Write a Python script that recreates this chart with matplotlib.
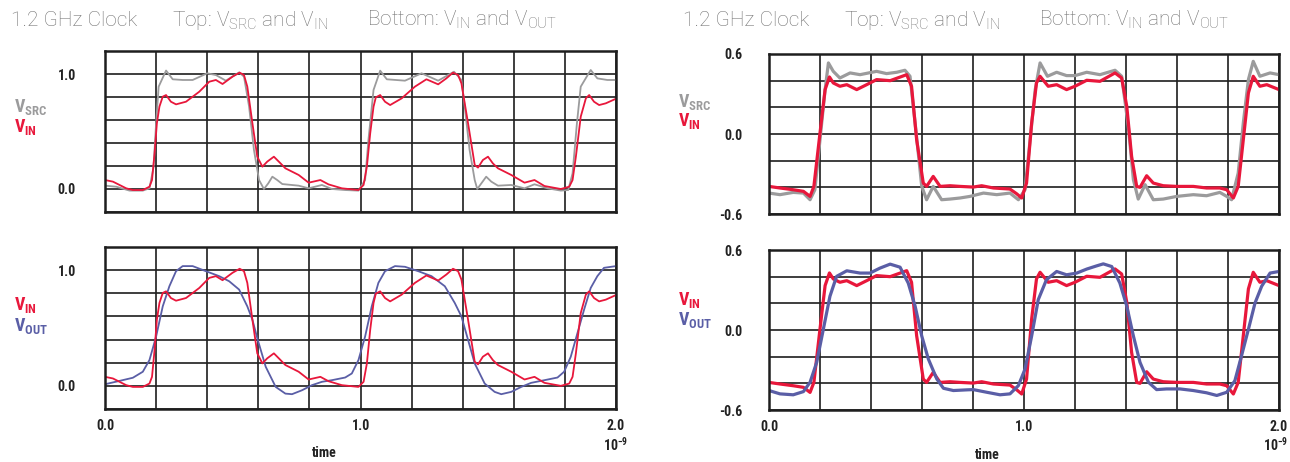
import matplotlib
matplotlib.use("Agg")
import numpy as np
import matplotlib.pyplot as plt
from matplotlib import font_manager as fm

# ---------------- data (time in ns, voltage in V) ----------------
# Left chart (0..1 V scale)
left_src_t = [0, 0.044, 0.096, 0.148, 0.174, 0.190, 0.200, 0.210, 0.239, 0.265, 0.304, 0.343, 0.400, 0.434,
              0.473, 0.525, 0.544, 0.564, 0.583, 0.603, 0.622, 0.639, 0.655, 0.674, 0.694, 0.758, 0.797, 0.849,
              0.888, 0.940, 0.992, 1.018, 1.031, 1.051, 1.077, 1.103, 1.174, 1.239, 1.304, 1.366, 1.395, 1.408,
              1.427, 1.447, 1.457, 1.473, 1.492, 1.512, 1.538, 1.590, 1.642, 1.681, 1.732, 1.784, 1.813, 1.830,
              1.847, 1.862, 1.901, 1.927, 1.966, 2.0]
left_src_v = [0.029, 0.020, -0.014, -0.014, 0.006, 0.19, 0.57, 0.89, 1.03, 0.954, 0.948, 0.948, 1.006, 0.991,
              0.942, 1.014, 0.977, 0.716, 0.339, 0.078, 0.0, 0.049, 0.107, 0.078, 0.043, 0.029, 0.006, 0.035,
              0.0, -0.009, -0.014, 0.078, 0.426, 0.861, 1.029, 0.954, 0.942, 1.006, 0.942, 1.020, 0.948, 0.716,
              0.339, 0.078, 0.0, 0.049, 0.107, 0.064, 0.029, 0.035, 0.006, 0.041, 0.006, -0.014, -0.009, 0.136,
              0.571, 0.890, 1.035, 0.962, 0.948, 0.948]

left_in_t = [0, 0.031, 0.057, 0.083, 0.109, 0.148, 0.174, 0.184, 0.194, 0.203, 0.213, 0.226, 0.239, 0.258,
             0.278, 0.317, 0.369, 0.408, 0.434, 0.460, 0.499, 0.527, 0.544, 0.557, 0.577, 0.596, 0.616, 0.635,
             0.661, 0.687, 0.706, 0.758, 0.797, 0.843, 0.875, 0.927, 0.992, 1.012, 1.025, 1.038, 1.051, 1.060,
             1.077, 1.096, 1.116, 1.161, 1.213, 1.258, 1.304, 1.336, 1.362, 1.382, 1.395, 1.421, 1.447, 1.460,
             1.479, 1.499, 1.518, 1.538, 1.590, 1.642, 1.681, 1.720, 1.784, 1.817, 1.830, 1.843, 1.862, 1.882,
             1.895, 1.914, 1.934, 1.960, 2.0]
left_in_v = [0.078, 0.064, 0.035, 0.006, -0.009, -0.009, 0.020, 0.078, 0.310, 0.571, 0.716, 0.803, 0.817,
             0.759, 0.736, 0.759, 0.846, 0.933, 0.948, 0.913, 0.977, 1.012, 0.991, 0.890, 0.571, 0.281, 0.194,
             0.238, 0.281, 0.223, 0.180, 0.122, 0.055, 0.078, 0.040, 0.006, -0.009, 0.035, 0.194, 0.484, 0.716,
             0.797, 0.817, 0.759, 0.730, 0.788, 0.890, 0.954, 0.910, 0.962, 1.012, 0.991, 0.919, 0.571, 0.209,
             0.186, 0.252, 0.281, 0.223, 0.180, 0.122, 0.055, 0.078, 0.026, 0.0, 0.020, 0.078, 0.281, 0.629,
             0.788, 0.817, 0.759, 0.730, 0.745, 0.785]

left_out_t = [0, 0.057, 0.109, 0.148, 0.174, 0.200, 0.226, 0.252, 0.278, 0.304, 0.343, 0.395, 0.447, 0.486,
              0.525, 0.557, 0.577, 0.596, 0.629, 0.668, 0.706, 0.732, 0.771, 0.810, 0.849, 0.888, 0.940, 0.966,
              0.992, 1.018, 1.044, 1.070, 1.096, 1.135, 1.174, 1.226, 1.278, 1.330, 1.369, 1.395, 1.421, 1.447,
              1.486, 1.525, 1.551, 1.590, 1.629, 1.668, 1.720, 1.771, 1.797, 1.823, 1.849, 1.875, 1.901, 1.927,
              1.953, 2.0]
left_out_v = [0.014, 0.043, 0.070, 0.122, 0.223, 0.426, 0.687, 0.861, 0.991, 1.035, 1.035, 0.991, 0.948, 0.904,
              0.832, 0.687, 0.571, 0.412, 0.165, -0.009, -0.067, -0.072, -0.038, 0.006, 0.035, 0.049, 0.072,
              0.107, 0.223, 0.426, 0.687, 0.890, 0.991, 1.035, 1.029, 0.991, 0.948, 0.861, 0.716, 0.600, 0.397,
              0.194, 0.020, -0.052, -0.072, -0.052, -0.009, 0.026, 0.049, 0.072, 0.122, 0.252, 0.455, 0.658,
              0.846, 0.948, 1.020, 1.035]

# Right chart (-0.6..0.6 V scale)
right_src_t = [0, 0.043, 0.095, 0.135, 0.161, 0.180, 0.200, 0.220, 0.233, 0.252, 0.278, 0.318, 0.357, 0.422,
               0.461, 0.501, 0.533, 0.553, 0.573, 0.599, 0.618, 0.644, 0.677, 0.710, 0.749, 0.788, 0.841, 0.893,
               0.945, 0.978, 1.004, 1.024, 1.044, 1.063, 1.092, 1.128, 1.167, 1.200, 1.246, 1.298, 1.357, 1.383,
               1.409, 1.429, 1.448, 1.475, 1.507, 1.546, 1.599, 1.664, 1.716, 1.768, 1.795, 1.814, 1.840, 1.860,
               1.880, 1.899, 1.925, 1.965, 2.0]
right_src_v = [-0.443, -0.455, -0.438, -0.443, -0.493, -0.418, -0.043, 0.333, 0.533, 0.470, 0.420, 0.458, 0.445,
               0.470, 0.453, 0.463, 0.478, 0.433, 0.083, -0.393, -0.493, -0.393, -0.493, -0.488, -0.480, -0.468,
               -0.443, -0.455, -0.443, -0.493, -0.418, -0.043, 0.333, 0.533, 0.433, 0.463, 0.438, 0.438, 0.463,
               0.445, 0.478, 0.433, 0.058, -0.343, -0.488, -0.380, -0.493, -0.488, -0.468, -0.455, -0.463,
               -0.438, -0.468, -0.493, -0.293, 0.083, 0.408, 0.545, 0.433, 0.458, 0.445]

right_in_t = [0, 0.043, 0.095, 0.135, 0.161, 0.176, 0.200, 0.220, 0.237, 0.252, 0.278, 0.305, 0.344, 0.383,
              0.422, 0.475, 0.540, 0.559, 0.579, 0.605, 0.618, 0.644, 0.671, 0.710, 0.749, 0.801, 0.834, 0.880,
              0.945, 0.971, 0.991, 1.010, 1.030, 1.049, 1.063, 1.095, 1.128, 1.167, 1.200, 1.246, 1.298, 1.357,
              1.383, 1.403, 1.422, 1.442, 1.455, 1.481, 1.507, 1.546, 1.599, 1.664, 1.716, 1.768, 1.795, 1.821,
              1.840, 1.860, 1.880, 1.899, 1.925, 1.952, 2.0]
right_in_v = [-0.393, -0.405, -0.418, -0.430, -0.468, -0.393, 0.008, 0.333, 0.428, 0.383, 0.358, 0.370, 0.333,
              0.370, 0.408, 0.400, 0.445, 0.358, -0.043, -0.368, -0.393, -0.318, -0.393, -0.388, -0.393, -0.398,
              -0.388, -0.405, -0.413, -0.448, -0.480, -0.368, 0.083, 0.383, 0.433, 0.358, 0.370, 0.333, 0.358,
              0.403, 0.395, 0.458, 0.420, 0.208, -0.168, -0.393, -0.400, -0.313, -0.368, -0.388, -0.393, -0.393,
              -0.405, -0.405, -0.418, -0.480, -0.393, -0.043, 0.308, 0.433, 0.358, 0.370, 0.333]

right_out_t = [0, 0.043, 0.095, 0.135, 0.161, 0.187, 0.213, 0.239, 0.265, 0.305, 0.357, 0.396, 0.435, 0.475,
               0.514, 0.546, 0.573, 0.599, 0.625, 0.658, 0.684, 0.723, 0.775, 0.801, 0.854, 0.906, 0.945, 0.978,
               1.004, 1.030, 1.056, 1.088, 1.128, 1.167, 1.207, 1.246, 1.285, 1.311, 1.344, 1.376, 1.403, 1.429,
               1.455, 1.488, 1.520, 1.559, 1.612, 1.664, 1.716, 1.756, 1.795, 1.827, 1.853, 1.880, 1.906, 1.932,
               1.965, 2.0]
right_out_v = [-0.454, -0.479, -0.486, -0.462, -0.392, -0.243, 0.005, 0.253, 0.402, 0.444, 0.427, 0.427, 0.464,
               0.494, 0.471, 0.352, 0.179, -0.045, -0.218, -0.367, -0.437, -0.454, -0.449, -0.447, -0.467,
               -0.486, -0.479, -0.417, -0.293, -0.045, 0.228, 0.377, 0.439, 0.414, 0.427, 0.457, 0.481, 0.496,
               0.476, 0.352, 0.179, -0.045, -0.243, -0.392, -0.447, -0.442, -0.442, -0.454, -0.471, -0.491,
               -0.467, -0.380, -0.194, 0.005, 0.203, 0.328, 0.427, 0.439]

x_tick_labels = {0.0: "0.0", 1.0: "1.0", 2.0: "2.0"}
left_y_labels = {0.0: "0.0", 1.0: "1.0"}
right_y_labels = {-0.6: "-0.6", 0.0: "0.0", 0.6: "0.6"}

# ---------------- style ----------------
W, H = 1290, 462
C_SRC = "#9b9b9c"
C_IN = "#e8173b"
C_OUT = "#5a5ea6"
C_TITLE = "#727272"
C_GRID = "#1e1e1e"

avail = {f.name for f in fm.fontManager.ttflist}
NARROW = "Roboto"
for cand in ["Liberation Sans Narrow", "Roboto Condensed", "DejaVu Sans Condensed", "Open Sans Condensed"]:
    if cand in avail:
        NARROW = cand
        break
LIGHT = "Roboto" if "Roboto" in avail else "DejaVu Sans"

fig = plt.figure(figsize=(W / 100, H / 100), dpi=100)


def px_axes(x0, y0, x1, y1):
    return fig.add_axes([x0 / W, 1 - y1 / H, (x1 - x0) / W, (y1 - y0) / H])


def setup(ax, ylim, ystep, ylabels, show_x, ypad):
    ax.set_xlim(0, 2.0)
    ax.set_ylim(*ylim)
    xt = np.round(np.arange(0, 2.0001, 0.2), 3)
    yt = np.round(np.arange(ylim[0], ylim[1] + 1e-6, ystep), 3)
    ax.set_xticks(xt)
    ax.set_yticks(yt)
    ax.set_yticklabels([ylabels.get(round(v, 1), "") for v in yt])
    if show_x:
        ax.set_xticklabels([x_tick_labels.get(round(v, 1), "") for v in xt])
    else:
        ax.set_xticklabels([])
    ax.tick_params(length=0, pad=ypad, axis="y")
    ax.tick_params(length=0, pad=7, axis="x")
    for lab in ax.get_yticklabels() + ax.get_xticklabels():
        lab.set_fontfamily(NARROW)
        lab.set_fontweight("bold")
        lab.set_fontsize(10)
        lab.set_color("#222222")
    ax.grid(True, color=C_GRID, linewidth=1.2)
    ax.set_axisbelow(True)
    for s in ax.spines.values():
        s.set_linewidth(1.8)
        s.set_color(C_GRID)


def vlabel(x, y, txt, color):
    fig.text(x / W, 1 - y / H, r"$\mathregular{" + txt + "}$", color=color, fontsize=13,
             fontfamily=NARROW, fontweight="bold", ha="left", va="center")


def small(ax, x, y, s, ha):
    ax.text(x, y, s, transform=ax.transAxes, ha=ha, va="center",
            fontsize=10, fontfamily=NARROW, fontweight="bold", color="#222222")


# Left top
ax = px_axes(105, 51, 616, 212)
setup(ax, (-0.2, 1.2), 0.2, left_y_labels, False, 21)
ax.plot(left_src_t, left_src_v, color=C_SRC, lw=1.3, solid_joinstyle="round")
ax.plot(left_in_t, left_in_v, color=C_IN, lw=1.3, solid_joinstyle="round")
# Left bottom
ax = px_axes(105, 247, 616, 409)
setup(ax, (-0.2, 1.2), 0.2, left_y_labels, True, 21)
ax.plot(left_out_t, left_out_v, color=C_OUT, lw=1.3, solid_joinstyle="round")
ax.plot(left_in_t, left_in_v, color=C_IN, lw=1.3, solid_joinstyle="round")
small(ax, 1.0 + 12 / 511, -0.22, r"$\mathregular{10^{-9}}$", "right")
small(ax, 0.405, -0.27, "time", "left")

# Right top
ax = px_axes(769, 54, 1279, 214)
setup(ax, (-0.6, 0.6), 0.2, right_y_labels, False, 19)
ax.plot(right_src_t, right_src_v, color=C_SRC, lw=2.3, solid_joinstyle="round")
ax.plot(right_in_t, right_in_v, color=C_IN, lw=2.3, solid_joinstyle="round")
# Right bottom
ax = px_axes(769, 250, 1279, 410)
setup(ax, (-0.6, 0.6), 0.2, right_y_labels, True, 19)
ax.plot(right_in_t, right_in_v, color=C_IN, lw=2.3, solid_joinstyle="round")
ax.plot(right_out_t, right_out_v, color=C_OUT, lw=2.3, solid_joinstyle="round")
small(ax, 1.0 + 9 / 510, -0.215, r"$\mathregular{10^{-9}}$", "right")
small(ax, 0.404, -0.28, "time", "left")

# Side legends
vlabel(14, 107, "V_{SRC}", C_SRC)
vlabel(14, 127, "V_{IN}", C_IN)
vlabel(14, 305, "V_{IN}", C_IN)
vlabel(14, 326, "V_{OUT}", C_OUT)
vlabel(678, 102, "V_{SRC}", C_SRC)
vlabel(678, 121, "V_{IN}", C_IN)
vlabel(678, 300, "V_{IN}", C_IN)
vlabel(678, 320, "V_{OUT}", C_OUT)


# Titles
def title(x0):
    parts = [(0, "1.2 GHz Clock"), (161, r"Top: $\mathregular{V_{SRC}}$ and $\mathregular{V_{IN}}$"),
             (356, r"Bottom: $\mathregular{V_{IN}}$ and $\mathregular{V_{OUT}}$")]
    for dx, s in parts:
        fig.text((x0 + dx) / W, 1 - 26 / H, s, color=C_TITLE, fontsize=15, fontfamily=LIGHT,
                 fontweight="light", ha="left", va="baseline")


title(11)
title(683)

fig.savefig("out.png", dpi=100)
